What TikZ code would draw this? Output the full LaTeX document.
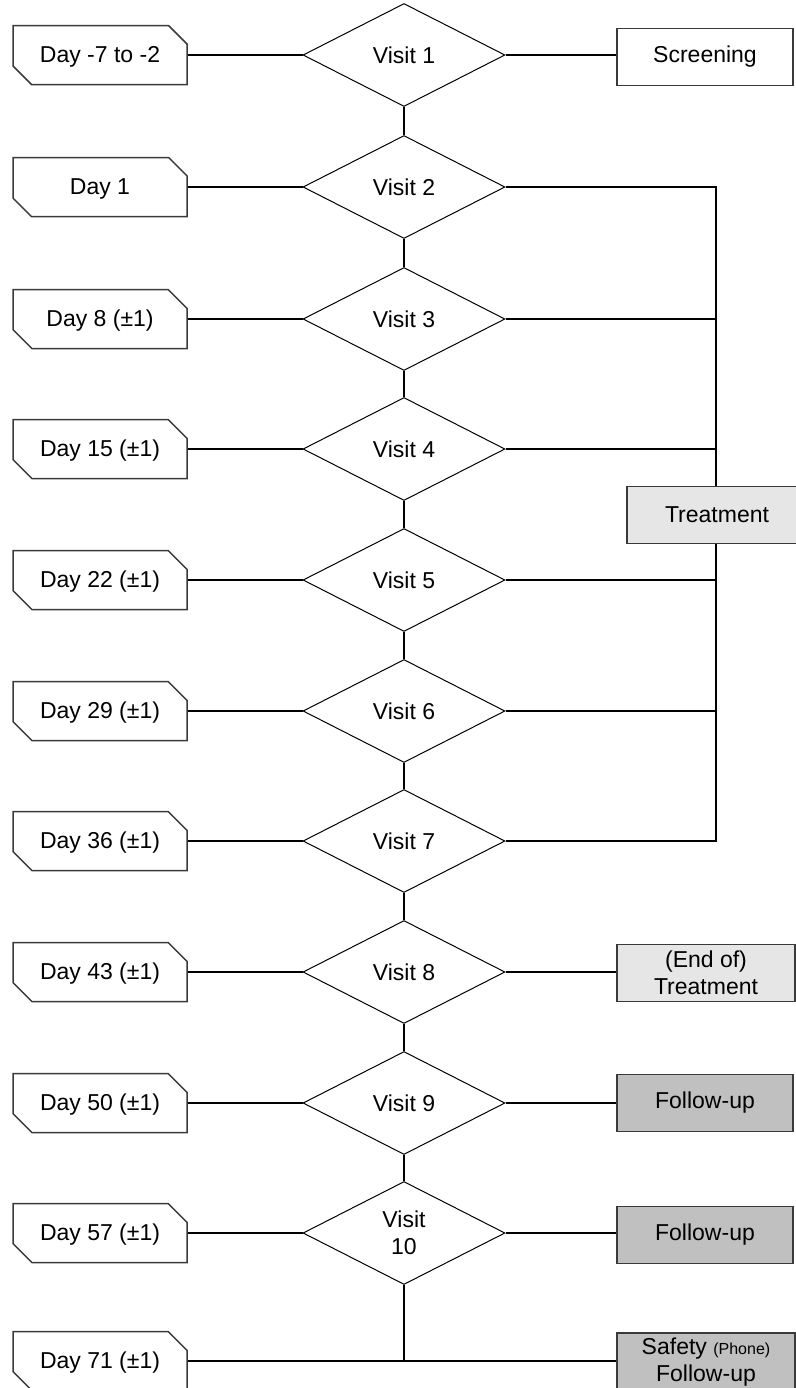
\documentclass[tikz,border=0pt]{standalone}
\usepackage{fontspec}
\setmainfont{Liberation Sans}
\usetikzlibrary{shapes.geometric,shapes.misc}
\definecolor{lightfill}{HTML}{E6E6E6}
\definecolor{darkfill}{HTML}{C0C0C0}
\definecolor{edgegray}{HTML}{3A3A3A}
\begin{document}
\begin{tikzpicture}[x=0.5pt,y=-0.5pt,
  every node/.style={font=\fontsize{11.5}{13.5}\selectfont},
  daybox/.style={chamfered rectangle, chamfered rectangle corners={north east,south west},
    chamfered rectangle xsep=5pt, chamfered rectangle ysep=5pt,
    draw=edgegray, line width=0.75pt, fill=white, minimum width=87pt, minimum height=29.5pt, inner sep=0pt,
    text depth=0.5pt},
  visit/.style={diamond, draw=black, line width=0.5pt, fill=white, minimum width=101pt, minimum height=51.5pt, inner sep=0pt, align=center},
  phase/.style={rectangle, draw=edgegray, line width=0.75pt, minimum width=88pt, minimum height=28.5pt, inner sep=0pt, align=center},
  link/.style={line width=1.2pt, draw=black}]
\useasboundingbox (0,0) rectangle (796,1388);
\coordinate (tr2) at (716,187);
\coordinate (tr3) at (716,319);
\coordinate (tr4) at (716,449);
\coordinate (tr5) at (716,580);
\coordinate (tr6) at (716,711);
\coordinate (tr7) at (716,841);
% visits
\node[visit] (v1) at (404,55) {Visit 1};
\node[visit] (v2) at (404,187) {Visit 2};
\node[visit] (v3) at (404,319) {Visit 3};
\node[visit] (v4) at (404,449) {Visit 4};
\node[visit] (v5) at (404,580) {Visit 5};
\node[visit] (v6) at (404,711) {Visit 6};
\node[visit] (v7) at (404,841) {Visit 7};
\node[visit] (v8) at (404,972) {Visit 8};
\node[visit] (v9) at (404,1103) {Visit 9};
\node[visit] (v10) at (404,1233) {Visit\\10};
% day boxes
\node[daybox] (d1) at (100,55) {Day -7 to -2};
\node[daybox] (d2) at (100,187) {Day 1};
\node[daybox] (d3) at (100,319) {Day 8 (±1)};
\node[daybox] (d4) at (100,449) {Day 15 (±1)};
\node[daybox] (d5) at (100,580) {Day 22 (±1)};
\node[daybox] (d6) at (100,711) {Day 29 (±1)};
\node[daybox] (d7) at (100,841) {Day 36 (±1)};
\node[daybox] (d8) at (100,972) {Day 43 (±1)};
\node[daybox] (d9) at (100,1103) {Day 50 (±1)};
\node[daybox] (d10) at (100,1233) {Day 57 (±1)};
\node[daybox] (d11) at (100,1361) {Day 71 (±1)};
% phase boxes
\node[phase, fill=white] (scr) at (705,57) {Screening};
\node[phase, fill=lightfill, minimum width=90pt] (trt) at (717,515) {Treatment};
\node[phase, fill=lightfill, minimum width=89pt] (eot) at (706,973) {(End of)\\Treatment};
\node[phase, fill=darkfill] (fu1) at (705,1103) {Follow-up};
\node[phase, fill=darkfill] (fu2) at (705,1235) {Follow-up};
\node[phase, fill=darkfill, minimum width=89pt, minimum height=29pt] (saf) at (706,1362) {Safety {\fontsize{8}{9}\selectfont(Phone)}\\Follow-up};
\coordinate (j) at (404,1361);
% links
\draw[link] (v1.south) -- (v2.north);
\draw[link] (v2.south) -- (v3.north);
\draw[link] (v3.south) -- (v4.north);
\draw[link] (v4.south) -- (v5.north);
\draw[link] (v5.south) -- (v6.north);
\draw[link] (v6.south) -- (v7.north);
\draw[link] (v7.south) -- (v8.north);
\draw[link] (v8.south) -- (v9.north);
\draw[link] (v9.south) -- (v10.north);
\draw[link] (v10.south) -- (j);
\foreach \i in {1,...,10} { \draw[link] (d\i.east) -- (v\i.west); }
\draw[link] (d11.east) -- (j) -- (saf.west |- j);
\draw[link] (v1.east) -- (scr.west |- v1.east);
\draw[link] (v2.east) -- (tr2) -- (trt.north -| tr2);
\draw[link] (v3.east) -- (tr3);
\draw[link] (v4.east) -- (tr4);
\draw[link] (v5.east) -- (tr5);
\draw[link] (v6.east) -- (tr6);
\draw[link] (v7.east) -- (tr7) -- (trt.south -| tr7);
\draw[link] (v8.east) -- (eot.west |- v8.east);
\draw[link] (v9.east) -- (fu1.west);
\draw[link] (v10.east) -- (fu2.west |- v10.east);
\end{tikzpicture}
\end{document}
